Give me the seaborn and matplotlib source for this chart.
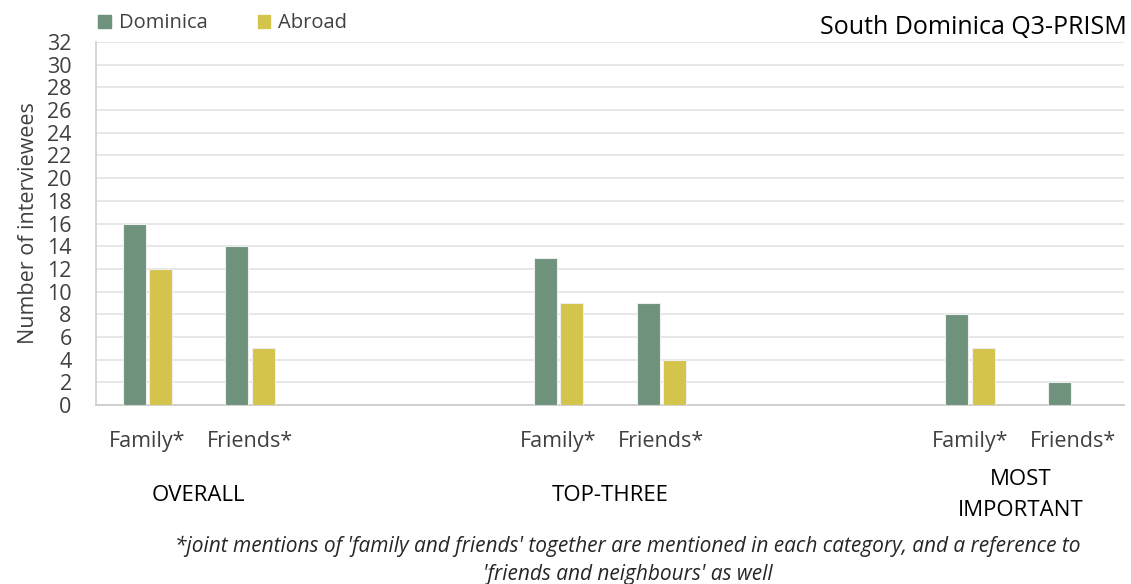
import matplotlib
matplotlib.use("Agg")
import matplotlib.pyplot as plt
import seaborn as sns
import pandas as pd
import numpy as np
from matplotlib.ticker import FixedLocator, MultipleLocator

# --- data ---
groups = ["OVERALL", "TOP-THREE", "MOST\nIMPORTANT"]
subcategories = ["Family*", "Friends*"]
dominica = [16, 14, 13, 9, 8, 2]
abroad = [12, 5, 9, 4, 5, 0]
series_names = ["Dominica", "Abroad"]
colors = ["#6E927B", "#D4C44C"]
title = "South Dominica Q3-PRISM"
ylabel = "Number of interviewees"
footnote = ("*joint mentions of 'family and friends' together are mentioned in each category, "
            "and a reference to\n'friends and neighbours' as well")

# each group occupies four category slots: two labelled, two empty
n_slots = 4 * len(groups) - 2
rows = []
for gi in range(len(groups)):
    for si, sub in enumerate(subcategories):
        k = gi * len(subcategories) + si
        slot = 4 * gi + si
        rows.append({"slot": slot, "series": series_names[0], "value": dominica[k]})
        rows.append({"slot": slot, "series": series_names[1], "value": abroad[k]})
df = pd.DataFrame(rows)

sns.set_theme(style="white")
plt.rcParams["font.family"] = ["Open Sans", "DejaVu Sans"]

fig = plt.figure(figsize=(11.31, 5.84), dpi=100)
ax = fig.add_axes([0.0849, 0.3065, 0.9089, 0.6215])

sns.barplot(data=df, x="slot", y="value", hue="series", order=list(range(n_slots)),
            hue_order=series_names, palette=colors, saturation=1, width=0.516, gap=0.132,
            edgecolor="#EEEEEE", linewidth=0.8, ax=ax, legend=False, zorder=3)

ax.set_xlim(-0.5, n_slots - 0.5)
ax.set_ylim(0, 32)
ax.yaxis.set_major_locator(MultipleLocator(2))
ax.grid(axis="y", color="#E3E3E3", linewidth=1.2, zorder=0)
ax.set_axisbelow(True)

# category labels under the slots, tick marks at the slot boundaries
label_pos, label_txt = [], []
for gi in range(len(groups)):
    for si, sub in enumerate(subcategories):
        label_pos.append(4 * gi + si)
        label_txt.append(sub)
ax.set_xticks(label_pos)
ax.set_xticklabels(label_txt, fontsize=15.5, color="#404040")
ax.xaxis.set_minor_locator(FixedLocator(np.arange(-0.5, n_slots, 1.0)))
ax.tick_params(axis="x", which="major", length=0, pad=19)
ax.tick_params(axis="x", which="minor", length=7, width=1.2, color="#C8C8C8", direction="out")
ax.tick_params(axis="y", length=6.5, width=1.2, color="#E3E3E3", labelsize=15.5,
               labelcolor="#404040", pad=11)
ax.set_xlabel("")
ax.set_ylabel(ylabel, fontsize=15.5, color="#404040", labelpad=6)

for side in ["top", "right"]:
    ax.spines[side].set_visible(False)
ax.spines["left"].set_color("#D0D0D0")
ax.spines["bottom"].set_color("#C8C8C8")
ax.spines["left"].set_linewidth(1.2)
ax.spines["bottom"].set_linewidth(1.2)

# group captions
for gi, g in enumerate(groups):
    xc = 4 * gi + 0.5
    ax.text(xc, -7.95, g, ha="center", va="center", fontsize=16, color="black",
            transform=ax.transData, linespacing=1.6)

# legend
handles = [plt.Rectangle((0, 0), 1, 1, color=c) for c in colors]
fig.legend(handles, series_names, loc="upper left", bbox_to_anchor=(0.071, 1.008),
           ncol=2, frameon=False, fontsize=14.5, handlelength=0.6, handleheight=0.6,
           handletextpad=0.4, columnspacing=2.5, labelcolor="#404040")

fig.text(0.996, 0.953, title, ha="right", va="center", fontsize=18, color="black")
fig.text(0.555, 0.040, footnote, ha="center", va="center", fontsize=15,
         style="italic", color="#262626", linespacing=1.45)

fig.savefig("out.png", dpi=100)
